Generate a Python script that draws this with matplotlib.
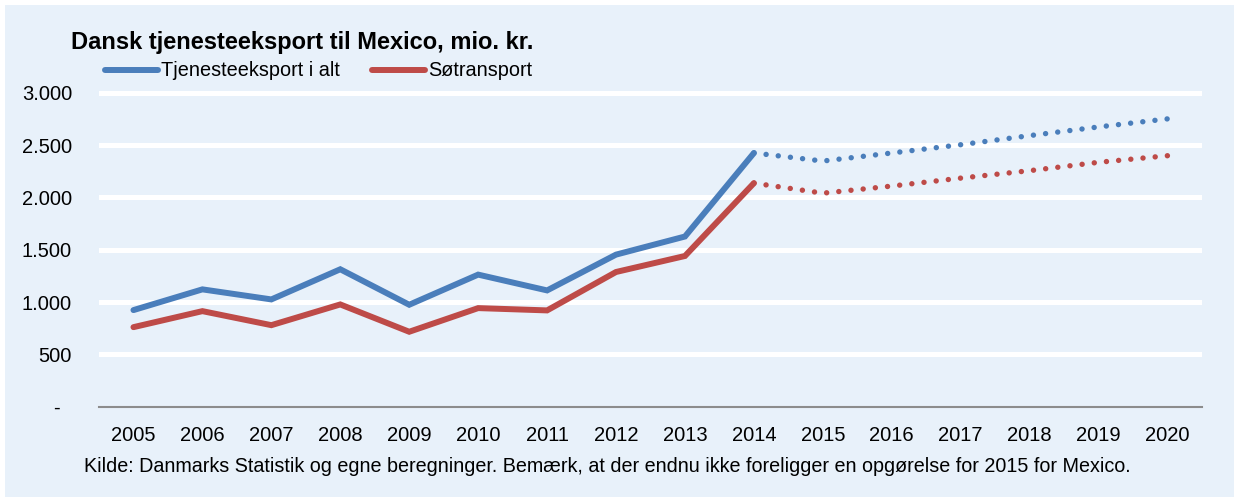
import numpy as np
import matplotlib.pyplot as plt
from matplotlib.patches import Rectangle

# data (mio. kr.)
years = [str(y) for y in range(2005, 2021)]
total_hist = [923, 1121, 1025, 1313, 974, 1262, 1111, 1453, 1626, 2424]
sea_hist = [760, 913, 779, 977, 716, 942, 920, 1287, 1440, 2136]
# forecast, starting in 2014
total_fc = [2424, 2347, 2424, 2503, 2590, 2673, 2750]
sea_fc = [2136, 2040, 2108, 2184, 2255, 2335, 2398]
yticks = [0, 500, 1000, 1500, 2000, 2500, 3000]
ytick_labels = ['-  ', '500', '1.000', '1.500', '2.000', '2.500', '3.000']

blue = '#4A7EBB'
red = '#BE4B48'
bg = '#E8F1FA'

plt.rcParams['font.family'] = ['Liberation Sans', 'DejaVu Sans']

W, H = 1234, 497
fig = plt.figure(figsize=(W / 100, H / 100), dpi=100)
fig.patch.set_facecolor('white')
fig.patches.append(Rectangle((5 / W, 0), 1, 1 - 5 / H, transform=fig.transFigure,
                             facecolor=bg, edgecolor='none', zorder=-10))

ymax = 3100
px_per_unit = (406.7 - 92.7) / 3000
ax_h = ymax * px_per_unit
ax = fig.add_axes([99 / W, (H - 406.7) / H, (1202 - 99) / W, ax_h / H])
ax.patch.set_alpha(0)

x = np.arange(len(years))
n_hist = len(total_hist)
x_fc = x[n_hist - 1:]

l1, = ax.plot(x[:n_hist], total_hist, color=blue, lw=4.3, solid_capstyle='round',
              solid_joinstyle='miter', label='Tjenesteeksport i alt', zorder=3)
l2, = ax.plot(x[:n_hist], sea_hist, color=red, lw=4.3, solid_capstyle='round',
              solid_joinstyle='miter', label='Søtransport', zorder=3)
dots = (0, (0.01, 2.25))
ax.plot(x_fc, total_fc, color=blue, lw=3.9, linestyle=dots, dash_capstyle='round', zorder=3)
ax.plot(x_fc, sea_fc, color=red, lw=3.9, linestyle=dots, dash_capstyle='round', zorder=3)

ax.set_xlim(-0.5, len(years) - 0.5)
ax.set_ylim(0, ymax)
ax.set_xticks(x)
ax.set_xticklabels(years, fontsize=14.5)
ax.set_yticks(yticks)
ax.set_yticklabels(ytick_labels, fontsize=14.5)
ax.tick_params(length=0)
ax.tick_params(axis='x', pad=14)
ax.tick_params(axis='y', pad=19.4)

for v in yticks[1:]:
    ax.axhline(v, color='white', lw=3.6, zorder=1)
for s in ['top', 'right', 'left']:
    ax.spines[s].set_visible(False)
ax.spines['bottom'].set_color('#8C8C8C')
ax.spines['bottom'].set_linewidth(1.5)

fig.text(71 / W, 1 - 42 / H, 'Dansk tjenesteeksport til Mexico, mio. kr.',
         fontsize=17, fontweight='bold', va='center', ha='left')

fig.legend(handles=[l1, l2], loc='center left', bbox_to_anchor=(105 / W, 1 - 71 / H),
           ncol=2, frameon=False, fontsize=14.3, handlelength=2.65, handletextpad=0.15,
           columnspacing=1.65, borderaxespad=0, borderpad=0)

fig.text(84 / W, 1 - 467 / H,
         'Kilde: Danmarks Statistik og egne beregninger. Bemærk, at der endnu ikke '
         'foreligger en opgørelse for 2015 for Mexico.',
         fontsize=14.2, va='center', ha='left')

fig.savefig('out.png', dpi=100, facecolor=fig.get_facecolor())
